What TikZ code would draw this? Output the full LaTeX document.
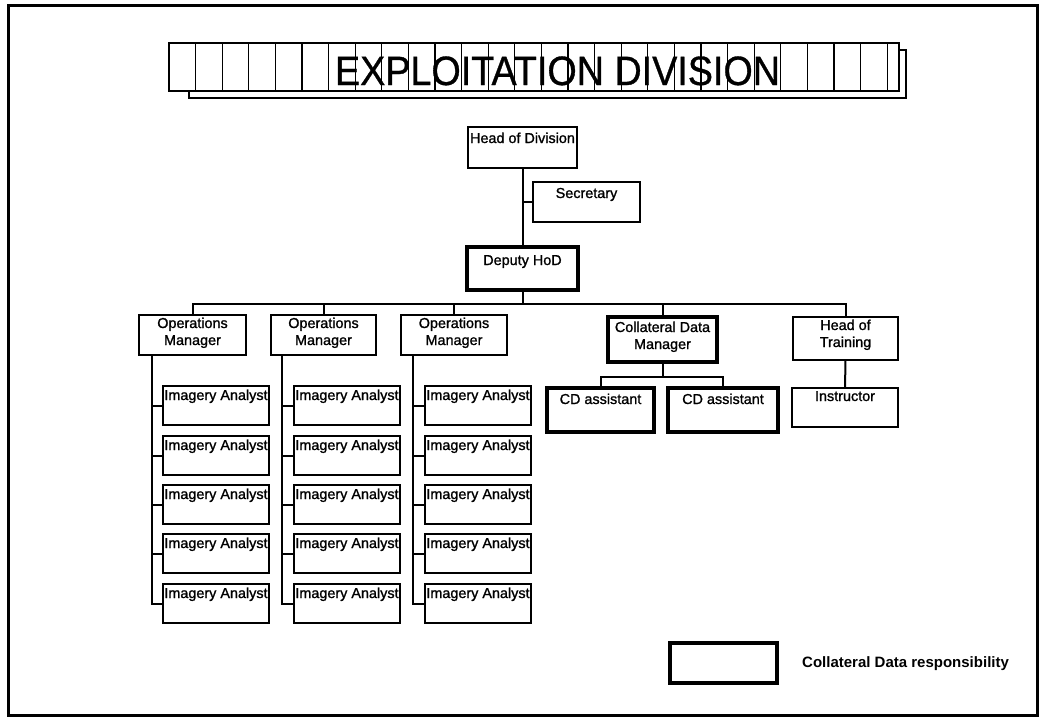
\documentclass[tikz,border=0pt]{standalone}
\usepackage{fontspec}
\setmainfont{Liberation Sans}
\newfontfamily\boxfont[FakeBold=1.2]{Liberation Sans}
\newfontfamily\titlefont[FakeBold=0.8]{Liberation Sans}
\newcommand\stackedtext[2]{\begin{tabular}[t]{@{}c@{}}#1\\#2\end{tabular}}
\begin{document}
\begin{tikzpicture}[x=1pt,y=-1pt,
  box/.style={draw, line width=2pt, rectangle, inner xsep=0pt, inner ysep=0pt, outer sep=0pt,
    anchor=north west, font=\boxfont\fontsize{14.4}{17}\selectfont, text height=16pt},
  cdbox/.style={box, line width=4pt},
  link/.style={line width=2pt},
  frame/.style={line width=3pt},
  banner/.style={line width=1.4pt},
  cell/.style={line width=1.1pt}]
\useasboundingbox (0,0) rectangle (1040,720);

% page frame
\draw[frame] (8.5,5) rectangle (1037.5,715.5);

% title banner with cells and drop shadow
\draw[banner] (169,43) rectangle (899,91);
\foreach \k in {1,...,27} \draw[cell] ({169+26.6*\k},43) -- ({169+26.6*\k},91);
\draw[banner] (189,91) -- (189,98) -- (906,98) -- (906,50) -- (899,50);
\node[anchor=base, inner sep=0pt, font=\titlefont\fontsize{41}{41}\selectfont, xscale=0.92] (title) at (557.5,85) {EXPLOITATION DIVISION};

% top of the hierarchy
\node[box, minimum width=109pt, text depth=25pt] (hod) at (468,127) {Head of Division};
\node[box, minimum width=107pt, text depth=24pt] (sec) at (533,182) {Secretary};
\node[cdbox, minimum width=111pt, text height=18pt, text depth=25pt] (dep) at (467,247) {Deputy HoD};

% managers
\node[box, minimum width=107pt, text height=13pt, text depth=27pt] (om1) at (139,315) {\stackedtext{Operations}{Manager}};
\node[box, minimum width=105pt, text height=13pt, text depth=27pt] (om2) at (271,315) {\stackedtext{Operations}{Manager}};
\node[box, minimum width=106pt, text height=13pt, text depth=27pt] (om3) at (401,315) {\stackedtext{Operations}{Manager}};
\node[cdbox, minimum width=109pt, text height=15pt, text depth=30pt] (cdm) at (608,317) {\stackedtext{Collateral Data}{Manager}};
\node[box, minimum width=105pt, text height=13pt, text depth=30pt] (hot) at (793,317) {\stackedtext{Head of}{Training}};

% collateral data and training staff
\node[cdbox, minimum width=107pt, text depth=28pt] (cd1) at (547,388) {CD assistant};
\node[cdbox, minimum width=110pt, text depth=28pt] (cd2) at (668,388) {CD assistant};
\node[box, minimum width=106pt, text height=13pt, text depth=26pt] (ins) at (792,388) {Instructor};

% imagery analysts
\foreach \c/\x in {1/163,2/294,3/425}{
  \foreach \r/\y in {1/386,2/436,3/485,4/534,5/584}{
    \node[box, minimum width=106pt, text height=14pt, text depth=25pt] (a\c\r) at (\x,\y) {Imagery Analyst};
  }
}

% connectors
\draw[link] (hod.south) -- (dep.north);
\draw[link] (hod.south |- sec.west) -- (sec.west);
\coordinate (bus) at (522.5,304);
\draw[link] (dep.south) -- (bus);
\draw[link] (om1.north) -- (om1.north |- bus) -- (hot.north |- bus) -- (hot.north);
\foreach \n in {om2,om3,cdm} \draw[link] (\n.north) -- (\n.north |- bus);
\coordinate (cdbus) at (662.5,377);
\draw[link] (cdm.south) -- (cdbus);
\draw[link] (cd1.north) -- (cd1.north |- cdbus) -- (cd2.north |- cdbus) -- (cd2.north);
\draw[link] (hot.south) -- (ins.north);
\foreach \c/\s in {1/13,2/11,3/12}{
  \coordinate (s\c) at ([xshift=\s pt]om\c.south west);
  \draw[link] (s\c) -- (s\c |- a\c5.west) -- (a\c5.west);
  \foreach \r in {1,...,4} \draw[link] (s\c |- a\c\r.west) -- (a\c\r.west);
}

% legend
\node[cdbox, minimum width=107pt, minimum height=40pt, text height=0pt, text depth=0pt] (legbox) at (670,643) {};
\node[anchor=base west, inner sep=0pt, font=\bfseries\fontsize{15}{18}\selectfont] (legtext) at (802,667) {Collateral Data responsibility};
\end{tikzpicture}
\end{document}
